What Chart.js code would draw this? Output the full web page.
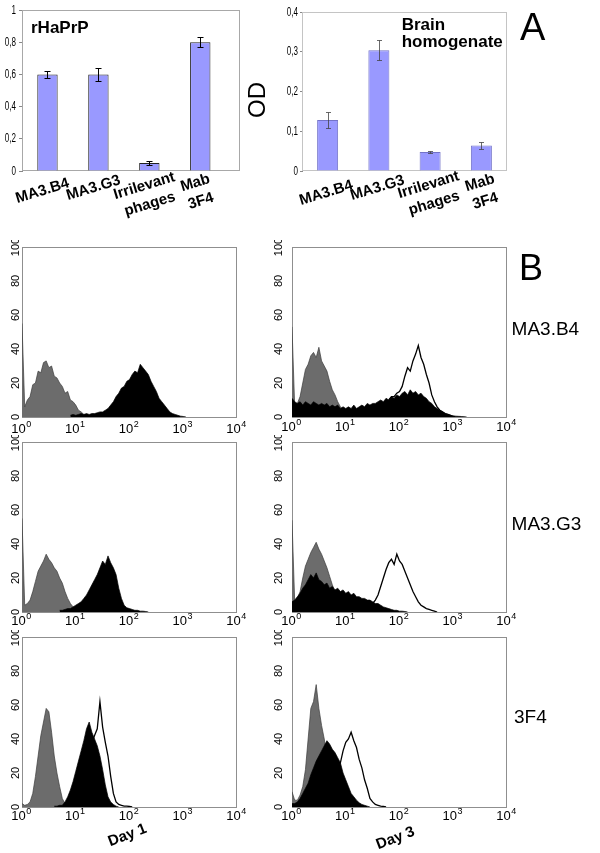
<!DOCTYPE html>
<html><head><meta charset="utf-8">
<script src="https://cdn.jsdelivr.net/npm/chart.js@4.4.1/dist/chart.umd.min.js"></script>
<style>
html,body{margin:0;padding:0;background:#fff;}
#page{position:relative;width:600px;height:853px;overflow:hidden;background:#fff;font-family:"Liberation Sans",Arial,sans-serif;}
canvas{position:absolute;}
.t{position:absolute;white-space:nowrap;line-height:1;color:#000;z-index:5;}
</style></head><body>
<div id="page">
<canvas id="barL" width="260" height="230" style="left:0;top:0"></canvas>
<canvas id="barR" width="240" height="230" style="left:280px;top:0"></canvas>
<canvas id="h1" width="260" height="200" style="left:0;top:240px"></canvas>
<canvas id="h2" width="260" height="200" style="left:270px;top:240px"></canvas>
<canvas id="h3" width="260" height="200" style="left:0;top:435px"></canvas>
<canvas id="h4" width="260" height="200" style="left:270px;top:435px"></canvas>
<canvas id="h5" width="260" height="200" style="left:0;top:630px"></canvas>
<canvas id="h6" width="260" height="200" style="left:270px;top:630px"></canvas>

<div class="t" style="left:31px;top:18.6px;font-size:17px;font-weight:bold;">rHaPrP</div>
<div class="t" style="left:401.7px;top:15.6px;font-size:17px;font-weight:bold;line-height:17px;">Brain<br>homogenate</div>
<div class="t" style="left:520px;top:7.8px;font-size:38px;">A</div>
<div class="t" style="left:519px;top:249.5px;font-size:36px;">B</div>
<div class="t" style="left:256.5px;top:100px;font-size:24px;transform:translate(-50%,-50%) rotate(-90deg);">OD</div>
<div class="t" style="left:511.6px;top:318.9px;font-size:19px;">MA3.B4</div>
<div class="t" style="left:511.6px;top:513.9px;font-size:19px;">MA3.G3</div>
<div class="t" style="left:514px;top:706.9px;font-size:19px;">3F4</div>
<div class="t" style="left:127px;top:834px;font-size:15px;font-weight:bold;transform:translate(-50%,-50%) rotate(-21deg);">Day 1</div>
<div class="t" style="left:395px;top:836.5px;font-size:15px;font-weight:bold;transform:translate(-50%,-50%) rotate(-21deg);">Day 3</div>
</div>
<script>
// ---------------- DATA ----------------
const categoryLabels = ["MA3.B4", "MA3.G3", ["Irrilevant", "phages"], ["Mab", "3F4"]];
const rHaPrPValues = [0.60, 0.60, 0.05, 0.80];
const rHaPrPErrors = [0.021, 0.038, 0.013, 0.03];
const brainValues = [0.128, 0.304, 0.048, 0.064];
const brainErrors = [0.02, 0.026, 0.0025, 0.009];

const yTicksHist = [0, 20, 40, 60, 80, 100];
const xDecades = [0, 1, 2, 3, 4];

// log10 fluorescence channel positions
const logBins = [0,0.05,0.1,0.15,0.2,0.25,0.3,0.35,0.4,0.45,0.5,0.55,0.6,0.65,0.7,0.75,0.8,0.85,0.9,0.95,
1,1.05,1.1,1.15,1.2,1.25,1.3,1.35,1.4,1.45,1.5,1.55,1.6,1.65,1.7,1.75,1.8,1.85,1.9,1.95,
2,2.05,2.1,2.15,2.2,2.25,2.3,2.35,2.4,2.45,2.5,2.55,2.6,2.65,2.7,2.75,2.8,2.85,2.9,2.95,
3,3.05,3.1,3.15,3.2,3.25,3.3,3.35,3.4,3.45,3.5,3.55,3.6,3.65,3.7,3.75,3.8,3.85,3.9,3.95,4];

// MA3.B4 day 1
const p1Gray = {from: 0, counts: [55,6,10,12,19,20,27,26,32,33,29,30,24,23,20,18,14,15,10,9,7,4,3,1.5,1,0.5,0]};
const p1Black = {from: 0.9, counts: [1,1.5,1,1.5,2,1.5,2,1.5,2,2,2.5,3,3,4,5,7,9,12,14,17,18,21,22,25,27,26,31,29,27,25,21,18,15,11,9,7,5,3,2,1.5,1,0.5,0.3,0]};
// MA3.B4 day 3
const p2Gray = {from: 0, counts: [53,6,8,12,20,28,31,36,38,35,41,33,30,27,21,16,13,9,6,4,2,1,0]};
const p2Black = {from: 0, counts: [11,9,8,9,7,9,8,7,9,8,7,8,7,8,6,7,6,7,5,6,5,6,5,7,5,6,7,6,8,7,8,8,9,10,9,11,10,12,11,13,12,14,15,13,16,14,15,13,14,12,11,9,8,6,5,4,3,2,1.5,1,0.7,0.5,0.4,0.3,0.2,0]};
const p2Outline = {from: 1.8, counts: [10,12,12,14,15,18,24,29,27,33,37,42,35,31,25,20,13,9,6,4,3,2,1.5,1,0]};
// MA3.G3 day 1
const p3Gray = {from: 0, counts: [55,4,5,7,12,18,24,27,30,34,31,29,26,24,20,17,12,8,5,3,2,1,0.5,0]};
const p3Black = {from: 0.7, counts: [1,1,1.5,2,2,3,4,5,6,8,10,13,16,19,22,26,30,28,33,29,26,22,14,8,4,2.5,2,1.5,1,1,0.5,0.5,0.3,0]};
// MA3.G3 day 3
const p4Gray = {from: 0, counts: [54,6,8,12,20,27,31,35,38,41,37,34,30,26,21,16,12,9,6,4,2,1,0]};
const p4Black = {from: 0, counts: [6,7,9,11,14,16,19,22,20,23,19,18,16,17,14,15,13,14,12,13,11,12,10,11,9,9,8,8,7,7,6,5,5,4,3,2.5,2,1.5,1,1,0.5,0.5,0.3,0]};
const p4Outline = {from: 1.5, counts: [5,7,10,15,20,25,29,31,28,34,30,28,24,20,16,12,9,6,4,3,2,1.5,1,0.5,0]};
// 3F4 day 1
const p5Gray = {from: 0, counts: [2,1,1.5,3,8,18,30,42,50,58,56,44,30,20,12,5,2,1,0.5,0]};
const p5Black = {from: 0.6, counts: [0.5,0.5,1,1,3,6,10,15,21,27,33,39,46,50,44,40,36,30,22,13,6,3,1.5,0.5,0]};
const p5Outline = {from: 1.2, counts: [30,34,38,42,46,62,47,38,30,18,8,3,1.5,1,0.5,0.5,0.3,0]};
// 3F4 day 3
const p6Gray = {from: 0, counts: [9,4,4,7,12,22,40,58,62,72,58,48,40,30,22,15,10,6,3,1.5,0.5,0]};
const p6Black = {from: 0, counts: [2,2,3,5,8,11,14,19,23,27,30,33,36,39,37,34,32,29,26,20,16,12,8,6,4,2.5,1.5,1,0.5,0]};
const p6Outline = {from: 0.8, counts: [18,22,26,33,38,40,44,39,35,28,23,16,11,5,3,1.5,1,0.5,0.3,0]};

// ---------------- HELPERS ----------------
const FONT = '"Liberation Sans", Arial, sans-serif';

function toPoints(curve) {
  if (!curve) return [];
  const s = logBins.indexOf(curve.from);
  return curve.counts.map((c, i) => ({x: logBins[s + i], y: c}));
}
function fmtComma(v) { return String(Math.round(v * 10) / 10).replace('.', ','); }

function boxPlugin(color) {
  return {
    id: 'box',
    beforeDatasetsDraw(chart) {
      const {ctx, chartArea: a} = chart;
      ctx.save();
      ctx.strokeStyle = color; ctx.lineWidth = 1;
      ctx.strokeRect(Math.round(a.left) + 0.5, Math.round(a.top) + 0.5,
        Math.round(a.right - a.left) - 1, Math.round(a.bottom - a.top) - 1);
      ctx.restore();
    }
  };
}

// narrow (condensed) y tick labels drawn at the library's tick positions
function narrowYLabels(gap) {
  return {
    id: 'narrowy',
    afterDraw(chart) {
      const {ctx, scales: {y}} = chart;
      ctx.save();
      ctx.fillStyle = '#000';
      ctx.font = '13px ' + FONT;
      ctx.textAlign = 'right'; ctx.textBaseline = 'middle';
      y.ticks.forEach(t => {
        ctx.save();
        ctx.translate(y.right - gap, y.getPixelForValue(t.value));
        ctx.scale(0.62, 1);
        ctx.fillText(fmtComma(t.value), 0, 0);
        ctx.restore();
      });
      ctx.restore();
    }
  };
}

function errorPlugin(values, errors, color, width, cap) {
  return {
    id: 'errbars',
    afterDatasetsDraw(chart) {
      const {ctx, scales: {x, y}} = chart;
      ctx.save();
      ctx.strokeStyle = color; ctx.lineWidth = width;
      values.forEach((v, i) => {
        const e = errors[i];
        const px = Math.round(x.getPixelForValue(i)) + 0.5;
        const y1 = Math.round(y.getPixelForValue(v + e)) + 0.5;
        const y2 = Math.round(y.getPixelForValue(v - e)) + 0.5;
        ctx.beginPath();
        ctx.moveTo(px, y1); ctx.lineTo(px, y2);
        ctx.moveTo(px - cap, y1); ctx.lineTo(px + cap, y1);
        ctx.moveTo(px - cap, y2); ctx.lineTo(px + cap, y2);
        ctx.stroke();
      });
      ctx.restore();
    }
  };
}

function catLabelPlugin(dx, baseY) {
  return {
    id: 'catlabels',
    afterDraw(chart) {
      const {ctx, scales: {x}} = chart;
      ctx.save();
      ctx.font = 'bold 15px ' + FONT;
      ctx.fillStyle = '#000'; ctx.textAlign = 'center'; ctx.textBaseline = 'middle';
      const ang = -17 * Math.PI / 180;
      categoryLabels.forEach((lab, i) => {
        const lines = Array.isArray(lab) ? lab : [lab];
        ctx.save();
        ctx.translate(x.getPixelForValue(i) + dx, baseY[i]);
        ctx.rotate(ang);
        lines.forEach((ln, j) => ctx.fillText(ln, 0, j * 19));
        ctx.restore();
      });
      ctx.restore();
    }
  };
}

function barChart(id, values, errors, yMax, step, opt) {
  new Chart(document.getElementById(id), {
    type: 'bar',
    data: {
      datasets: [{
        data: values.map((v, i) => ({x: i, y: v})),
        backgroundColor: '#9999ff',
        borderColor: opt.barBorder,
        borderWidth: opt.barBorderWidth,
        borderSkipped: 'bottom',
        barPercentage: opt.barPct,
        categoryPercentage: 1
      }]
    },
    options: {
      responsive: false, animation: false, devicePixelRatio: 1,
      layout: {padding: {top: opt.padTop, right: opt.padRight, left: 0, bottom: 0}},
      plugins: {legend: {display: false}, tooltip: {enabled: false}},
      scales: {
        x: {type: 'linear', min: -0.5, max: opt.xMax, offset: false,
            ticks: {display: false}, grid: {display: false}, border: {display: false},
            afterFit(s) { s.height = opt.xAxisH; }},
        y: {min: 0, max: yMax,
            ticks: {stepSize: step, display: false},
            grid: {drawOnChartArea: false, drawTicks: true, tickLength: opt.tickLen, color: '#888'},
            border: {display: true, color: '#888'},
            afterFit(s) { s.width = 22; }}
      }
    },
    plugins: [boxPlugin(opt.boxColor), errorPlugin(values, errors, opt.errColor, opt.errWidth, opt.cap),
              catLabelPlugin(opt.labelDx, opt.labelY), narrowYLabels(opt.labelGap)]
  });
}

barChart('barL', rHaPrPValues, rHaPrPErrors, 1, 0.2, {
  barBorder: '#222', barBorderWidth: 1, barPct: 0.4, padTop: 10, padRight: 20, xMax: 3.78,
  xAxisH: 59, tickLen: 3, labelGap: 6, boxColor: '#a8a8a8', errColor: '#000', errWidth: 1, cap: 3,
  labelDx: -5, labelY: [191, 188, 186, 183]
});
barChart('barR', brainValues, brainErrors, 0.4, 0.1, {
  barBorder: '#7373c8', barBorderWidth: 1, barPct: 0.41, padTop: 12, padRight: 13, xMax: 3.5,
  xAxisH: 59, tickLen: 2, labelGap: 4, boxColor: '#c4c4c4', errColor: '#444', errWidth: 0.8, cap: 2.5,
  labelDx: -1.5, labelY: [193, 188, 185, 183]
});

function histDecor(yLabelX, xLabelDy) {
  return {
    id: 'histdecor',
    beforeDatasetsDraw(chart) {
      const {ctx, chartArea: a} = chart;
      ctx.save();
      ctx.strokeStyle = '#8f8f8f'; ctx.lineWidth = 1;
      ctx.strokeRect(Math.round(a.left) + 0.5, Math.round(a.top) + 0.5,
        Math.round(a.right - a.left) - 1, Math.round(a.bottom - a.top));
      ctx.restore();
    },
    afterDraw(chart) {
      const {ctx, chartArea: a, scales: {x, y}} = chart;
      ctx.save();
      ctx.fillStyle = '#000';
      ctx.font = '11px ' + FONT;
      ctx.textAlign = 'center'; ctx.textBaseline = 'middle';
      yTicksHist.forEach(v => {
        ctx.save();
        ctx.translate(yLabelX, y.getPixelForValue(v));
        ctx.rotate(-Math.PI / 2);
        ctx.fillText(String(v), 0, 0);
        ctx.restore();
      });
      ctx.textAlign = 'left'; ctx.textBaseline = 'alphabetic';
      const by = a.bottom + xLabelDy;
      xDecades.forEach(d => {
        const px = x.getPixelForValue(d);
        ctx.font = '13px ' + FONT;
        const w10 = ctx.measureText('10').width;
        ctx.font = '9px ' + FONT;
        const we = ctx.measureText(String(d)).width;
        const sx = px - (w10 + we) / 2 - 1;
        ctx.font = '13px ' + FONT;
        ctx.fillText('10', sx, by);
        ctx.font = '9px ' + FONT;
        ctx.fillText(String(d), sx + w10 + 0.5, by - 6);
      });
      ctx.restore();
    }
  };
}

function histChart(id, gray, black, outline, yLabelX, xLabelDy) {
  new Chart(document.getElementById(id), {
    type: 'line',
    data: {
      datasets: [
        {data: toPoints(black), fill: 'origin', backgroundColor: '#000', borderColor: '#000', borderWidth: 0.7},
        {data: toPoints(outline), fill: false, borderColor: '#000', borderWidth: 1.3},
        {data: toPoints(gray), fill: 'origin', backgroundColor: '#6c6c6c', borderColor: '#3c3c3c', borderWidth: 0.7}
      ]
    },
    options: {
      responsive: false, animation: false, devicePixelRatio: 1,
      layout: {padding: {top: 7, right: 23, left: 0, bottom: 0}},
      plugins: {legend: {display: false}, tooltip: {enabled: false}},
      elements: {point: {radius: 0}, line: {tension: 0}},
      scales: {
        x: {type: 'linear', min: 0, max: 4, ticks: {display: false}, grid: {display: false}, border: {display: false},
            afterFit(s) { s.height = 23; }},
        y: {min: 0, max: 100, ticks: {display: false}, grid: {display: false}, border: {display: false},
            afterFit(s) { s.width = 22; }}
      }
    },
    plugins: [histDecor(yLabelX, xLabelDy)]
  });
}

histChart('h1', p1Gray, p1Black, null, 16, 16);
histChart('h2', p2Gray, p2Black, p2Outline, 8.5, 14);
histChart('h3', p3Gray, p3Black, null, 16, 13);
histChart('h4', p4Gray, p4Black, p4Outline, 8.5, 13);
histChart('h5', p5Gray, p5Black, p5Outline, 16, 12.5);
histChart('h6', p6Gray, p6Black, p6Outline, 8.5, 12.5);
</script>
</body></html>
